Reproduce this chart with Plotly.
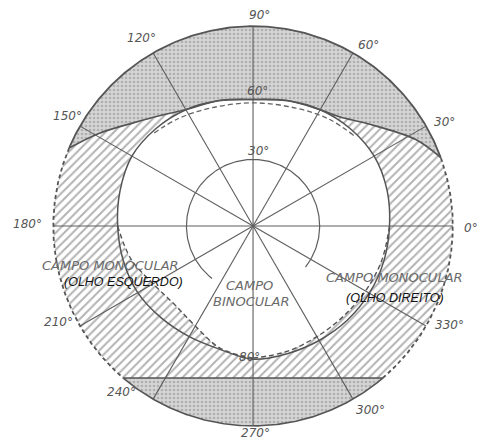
import numpy as np
import plotly.graph_objects as go

# ---------------- data (degrees of visual field) ----------------
tick_angles = [0, 30, 60, 90, 120, 150, 180, 210, 240, 270, 300, 330]
tick_labels = ["0°", "30°", "60°", "90°", "120°", "150°", "180°", "210°", "240°", "270°", "300°", "330°"]
field_limit = 90          # outer circle
inner_ring = 30           # 30° circle
inner_ring_gap = [232, 322]   # part of the 30° circle not drawn

# binocular field (white) boundary
binoc_theta = [0, 15, 30, 45, 60, 75, 90, 105, 120, 135, 150, 165, 180,
               195, 210, 225, 240, 255, 270, 285, 300, 315, 330, 345, 360]
binoc_r = [61.5, 62.5, 63, 62, 60.5, 58.5, 57, 58.5, 60.5, 62, 63, 62, 61,
           57, 52, 50, 52, 57, 59.5, 58.5, 57.5, 57.5, 58.5, 60, 61.5]

# monocular nasal limits (solid line)
nasal_theta = binoc_theta
nasal_r = [61.5, 62.5, 63, 62, 60.5, 58.5, 57, 58.5, 60.5, 62, 63, 62, 61,
           60.5, 60, 58.5, 57.5, 57.5, 60, 59.5, 59.5, 60, 60.5, 61, 61.5]

# upper limit of the field (brow)
brow_theta = [20, 28, 42, 51, 60, 75, 90, 105, 120, 130, 139, 149, 157]
brow_r = [90, 83, 69, 63, 60.5, 58.5, 57, 58.5, 60.5, 65, 71, 81, 90]

# lower limit of the field (cheek) – chord end angles
cheek_theta = [229.5, 310.5]

# dashed limit of the right eye, upper part
dash_top_theta = [42, 55, 70, 90, 110, 125, 138]
dash_top_r = [61, 59, 56.5, 55.5, 56.5, 59, 61.5]

# ---------------- helpers ----------------
def pol(theta, r):
    t = np.radians(np.asarray(theta, float))
    r = np.asarray(r, float)
    return r * np.cos(t), r * np.sin(t)

def arc(a0, a1, r, n=200):
    t = np.linspace(a0, a1, n)
    return pol(t, np.full_like(t, r))

LINE = "#555555"
fig = go.Figure()

# hatched disk (monocular fields)
cx, cy = arc(0, 360, field_limit, 400)
fig.add_trace(go.Scatter(x=cx, y=cy, mode="lines", fill="toself",
                         line=dict(width=0, color="white"),
                         fillcolor="white",
                         fillpattern=dict(shape="/", size=6, solidity=0.33,
                                          fgcolor="#666666", bgcolor="white"),
                         hoverinfo="skip"))

STIP = dict(shape=".", size=4, solidity=0.35, fgcolor="#8a8a8a", bgcolor="#d5d5d5")

# upper stippled zone
ax_, ay_ = arc(brow_theta[0], brow_theta[-1], field_limit)
bx, by = pol(brow_theta[::-1], brow_r[::-1])
fig.add_trace(go.Scatter(x=np.r_[ax_, bx], y=np.r_[ay_, by], mode="lines",
                         fill="toself", line=dict(width=0), fillcolor="#d5d5d5",
                         fillpattern=STIP, hoverinfo="skip"))

# lower stippled zone
lx, ly = arc(cheek_theta[0], cheek_theta[1], field_limit)
fig.add_trace(go.Scatter(x=np.r_[lx, lx[0]], y=np.r_[ly, ly[0]], mode="lines",
                         fill="toself", line=dict(width=1.6, color=LINE),
                         fillcolor="#d5d5d5", fillpattern=STIP, hoverinfo="skip"))

# binocular field (white)
wx, wy = pol(binoc_theta, binoc_r)
fig.add_trace(go.Scatter(x=wx, y=wy, mode="lines", fill="toself",
                         fillcolor="white", line=dict(width=0, shape="spline"),
                         hoverinfo="skip"))

# spokes
sx, sy = [], []
for a in tick_angles:
    ex, ey = pol([a], [field_limit])
    sx += [0, ex[0], None]
    sy += [0, ey[0], None]
fig.add_trace(go.Scatter(x=sx, y=sy, mode="lines",
                         line=dict(width=1.1, color="#5e5e5e"), hoverinfo="skip"))

# 30° circle
rx, ry = arc(inner_ring_gap[1] - 360, inner_ring_gap[0], inner_ring)
fig.add_trace(go.Scatter(x=rx, y=ry, mode="lines",
                         line=dict(width=1.2, color="#5e5e5e"), hoverinfo="skip"))

# outer circle: solid above, dashed along monocular sides
fig.add_trace(go.Scatter(x=ax_, y=ay_, mode="lines",
                         line=dict(width=1.8, color=LINE), hoverinfo="skip"))
for a0, a1 in [(brow_theta[-1], cheek_theta[0]), (cheek_theta[1], 360 + brow_theta[0])]:
    dx, dy = arc(a0, a1, field_limit)
    fig.add_trace(go.Scatter(x=dx, y=dy, mode="lines",
                             line=dict(width=1.8, color=LINE, dash="4px,3px"),
                             hoverinfo="skip"))

# brow limit line
bx2, by2 = pol(brow_theta, brow_r)
fig.add_trace(go.Scatter(x=bx2, y=by2, mode="lines",
                         line=dict(width=1.6, color=LINE, shape="spline"), hoverinfo="skip"))

# nasal limit (solid)
nx, ny = pol(nasal_theta, nasal_r)
fig.add_trace(go.Scatter(x=nx, y=ny, mode="lines",
                         line=dict(width=1.5, color=LINE, shape="spline"), hoverinfo="skip"))

# binocular boundary, dashed lower parts
for lo, hi in [(180, 270), (270, 360)]:
    idx = [i for i, t in enumerate(binoc_theta) if lo <= t <= hi]
    px_, py_ = pol([binoc_theta[i] for i in idx], [binoc_r[i] for i in idx])
    fig.add_trace(go.Scatter(x=px_, y=py_, mode="lines",
                             line=dict(width=1.4, color=LINE, dash="5px,3px", shape="spline"),
                             hoverinfo="skip"))

# dashed upper limit
tx, ty = pol(dash_top_theta, dash_top_r)
fig.add_trace(go.Scatter(x=tx, y=ty, mode="lines",
                         line=dict(width=1.3, color="#666666", dash="5px,3px", shape="spline"),
                         hoverinfo="skip"))

# ---------------- text ----------------
LABF = dict(family="DejaVu Sans", size=12, color="#555555", style="italic")
shifts = {0: (9, -2), 30: (11, 0), 60: (11, 0), 90: (6, 2), 120: (-7, 7),
          150: (-5, 6), 180: (-17, 2), 210: (-14, 8), 240: (-27, 15),
          270: (2, 2), 300: (13, -3), 330: (16, 5)}
ann = []
for a, lab in zip(tick_angles, tick_labels):
    x0, y0 = pol([a], [94])
    xs, ys = shifts[a]
    ann.append(dict(x=x0[0], y=y0[0], text=lab, showarrow=False, font=LABF,
                    xanchor="center", yanchor="middle", xshift=xs, yshift=ys))

ann += [
    dict(x=2.0, y=60.8, text="60°", showarrow=False, font=LABF),
    dict(x=2.3, y=33.8, text="30°", showarrow=False, font=LABF),
    dict(x=-1.4, y=-59.0, text="80°", showarrow=False, font=LABF),
]
GRAYF = dict(family="DejaVu Sans", size=13, color="#6a6a6a", style="italic")
BLKF = dict(family="Liberation Sans", size=12.5, color="#111111", style="italic")
ann += [
    dict(x=-64.4, y=-17.8, text="CAMPO MONOCULAR", showarrow=False, font=GRAYF),
    dict(x=-58.4, y=-25.4, text="(OLHO ESQUERDO)", showarrow=False, font=BLKF),
    dict(x=-1.8, y=-26.6, text="CAMPO", showarrow=False, font=GRAYF),
    dict(x=-0.9, y=-34.2, text="BINOCULAR", showarrow=False, font=GRAYF),
    dict(x=32.0, y=-23.0, text="CAMPO MONOCULAR", showarrow=False, font=GRAYF,
         xanchor="left"),
    dict(x=64.0, y=-32.2, text="(OLHO DIREITO)", showarrow=False, font=BLKF),
]

fig.update_layout(
    width=485, height=441, margin=dict(l=0, r=0, t=0, b=0),
    paper_bgcolor="white", plot_bgcolor="white", showlegend=False,
    xaxis=dict(range=[-114.0, 104.5], visible=False, fixedrange=True),
    yaxis=dict(range=[-96.8, 101.8], visible=False, fixedrange=True),
    annotations=ann,
)
fig.write_html("out.html", config={"displayModeBar": False},
               post_script="document.body.style.margin='0';document.body.style.overflow='hidden';")
